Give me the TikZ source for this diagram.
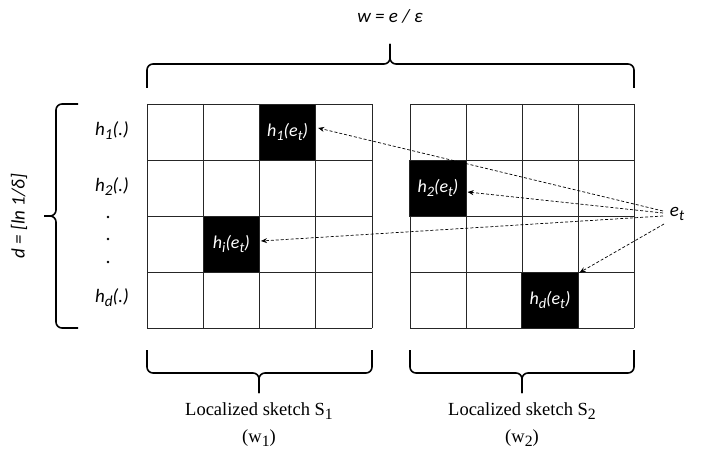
\documentclass[tikz,border=0pt]{standalone}
\usepackage{fontspec}
\setmainfont{Liberation Serif}
\newfontfamily\labfont{Carlito}
\usetikzlibrary{arrows.meta}
\newcommand\lsub[1]{\raisebox{-0.45ex}{\scalebox{0.8}{#1}}}
\newcommand\csub[1]{\raisebox{-0.45ex}{\scalebox{0.85}{#1}}}
\begin{document}
\begin{tikzpicture}[x=1pt,y=-1pt,
 gridline/.style={draw=black!85, line width=0.9pt},
 hit/.style={fill=black, draw=black!85, line width=0.9pt, minimum width=56.25pt, minimum height=56pt, inner sep=0pt, text=white, font=\labfont\itshape\fontsize{18}{18}\selectfont},
 lab/.style={font=\labfont\itshape\fontsize{19}{19}\selectfont, inner sep=1pt},
 captxt/.style={font=\fontsize{18.5}{18.5}\selectfont, inner sep=1pt},
 brace/.style={line width=1.6pt, rounded corners=6pt},
 dotn/.style={circle, fill=black, inner sep=0pt, minimum size=2.8pt},
 ptr/.style={dash pattern=on 3pt off 2pt, line width=0.7pt, -{Stealth[length=6pt,width=5pt]}}]
\useasboundingbox (0,0) rectangle (709,449);
% grids
\foreach \i in {0,...,4} {
  \draw[gridline] (147+56.25*\i,104) -- (147+56.25*\i,328);
  \draw[gridline] (147,104+56*\i) -- (372,104+56*\i);
  \draw[gridline] (410+56*\i,104) -- (410+56*\i,328);
  \draw[gridline] (410,104+56*\i) -- (634,104+56*\i);
}
% hit cells
\node[hit] (h1) at (287.6,132) {h\lsub{1}(e\lsub{t})};
\node[hit] (hi) at (231.4,244) {h\lsub{i}(e\lsub{t})};
\node[hit] (h2) at (438,188) {h\lsub{2}(e\lsub{t})};
\node[hit] (hd) at (550,300) {h\lsub{d}(e\lsub{t})};
% top brace
\draw[brace] (147,88) -- (147,64) -- (390,64) -- (390,44);
\draw[brace] (634,88) -- (634,64) -- (390,64) -- (390,44);
\node[lab] (w) at (390,16) {w = e / ε};
% left brace
\draw[brace] (78,104) -- (56,104) -- (56,216) -- (44,216);
\draw[brace] (78,328) -- (56,328) -- (56,216) -- (44,216);
\node[lab, rotate=90] (d) at (19,216) {d = [ln 1/δ]};
% row labels
\node[lab] (r1) at (112,131) {h\lsub{1}(.)};
\node[lab] (r2) at (112,187) {h\lsub{2}(.)};
\node[dotn] (dt1) at (108,217) {};
\node[dotn] (dt2) at (108,239) {};
\node[dotn] (dt3) at (108,262) {};
\node[lab] (rd) at (112,298) {h\lsub{d}(.)};
% bottom braces
\draw[brace] (147,350) -- (147,373) -- (259,373) -- (259,393);
\draw[brace] (372,350) -- (372,373) -- (259,373) -- (259,393);
\draw[brace] (410,350) -- (410,373) -- (522,373) -- (522,393);
\draw[brace] (634,350) -- (634,373) -- (522,373) -- (522,393);
\node[captxt] (c1) at (259,411) {Localized sketch S\csub{1}};
\node[captxt] (c1w) at (259,438) {(w\csub{1})};
\node[captxt] (c2) at (522,411) {Localized sketch S\csub{2}};
\node[captxt] (c2w) at (522,438) {(w\csub{2})};
% e_t and pointers
\node[lab] (et) at (677,214) {e\lsub{t}};
\coordinate (s1) at (663,211);
\coordinate (s2) at (663,213);
\coordinate (s3) at (663,216);
\coordinate (s4) at (664,224);
\draw[ptr] (s1) -- ([xshift=2pt,yshift=4pt]h1.east);
\draw[ptr] (s2) -- ([xshift=1pt,yshift=-4pt]h2.east);
\draw[ptr] (s3) -- ([xshift=1pt,yshift=3pt]hi.east);
\draw[ptr] (s4) -- ([xshift=1pt,yshift=-1pt]hd.north east);
\end{tikzpicture}
\end{document}
